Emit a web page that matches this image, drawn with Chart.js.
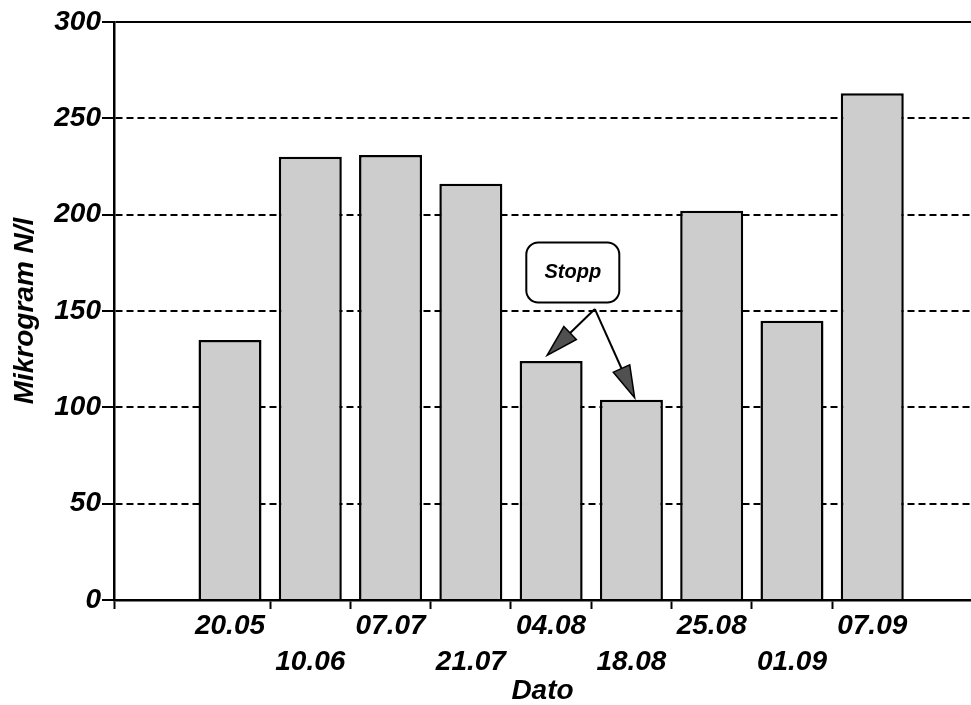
<!DOCTYPE html>
<html>
<head>
<meta charset="utf-8">
<script src="https://cdn.jsdelivr.net/npm/chart.js@4"></script>
<style>
  html, body { margin: 0; padding: 0; background: #fff; }
  #wrap { width: 971px; height: 705px; position: relative; }
</style>
</head>
<body>
<div id="wrap"><canvas id="nitrogenBarChart"></canvas></div>
<script>
const dates = ['20.05', '10.06', '07.07', '21.07', '04.08', '18.08', '25.08', '01.09', '07.09'];
const values = [135, 230, 231, 216, 124, 104, 202, 145, 263];
const yTicks = [0, 50, 100, 150, 200, 250, 300];
const noteText = 'Stopp';
const noteAt = [5.27, 170];
const noteFrom = [5.545, 151];
const noteTargets = [[4.95, 127], [6.04, 105]];

const FONT = "'Liberation Sans', Arial, Helvetica, sans-serif";

function createStoppNote() {
    return {
        id: 'stoppNote',
        afterDatasetsDraw(chart) {
            const {ctx, scales: {x, y}} = chart;
            ctx.save();
            // arrows
            const sx = x.getPixelForValue(noteFrom[0]);
            const sy = y.getPixelForValue(noteFrom[1]);
            noteTargets.forEach(t => {
                const ex = x.getPixelForValue(t[0]);
                const ey = y.getPixelForValue(t[1]);
                const ang = Math.atan2(ey - sy, ex - sx);
                const len = 32, half = 9;
                const bx = ex - Math.cos(ang) * len;
                const by = ey - Math.sin(ang) * len;
                ctx.beginPath();
                ctx.moveTo(sx, sy);
                ctx.lineTo(bx, by);
                ctx.strokeStyle = '#000';
                ctx.lineWidth = 2;
                ctx.stroke();
                ctx.beginPath();
                ctx.moveTo(ex, ey);
                ctx.lineTo(bx + Math.sin(ang) * half, by - Math.cos(ang) * half);
                ctx.lineTo(bx - Math.sin(ang) * half, by + Math.cos(ang) * half);
                ctx.closePath();
                ctx.fillStyle = '#505050';
                ctx.fill();
                ctx.lineWidth = 1.5;
                ctx.stroke();
            });
            // box
            const cx = x.getPixelForValue(noteAt[0]);
            const cy = y.getPixelForValue(noteAt[1]);
            const w = 93, h = 60;
            ctx.beginPath();
            ctx.roundRect(cx - w / 2, cy - h / 2, w, h, 12);
            ctx.fillStyle = '#fff';
            ctx.fill();
            ctx.lineWidth = 2;
            ctx.strokeStyle = '#000';
            ctx.stroke();
            ctx.fillStyle = '#000';
            ctx.font = 'italic bold 20px ' + FONT;
            ctx.textAlign = 'center';
            ctx.textBaseline = 'middle';
            ctx.fillText(noteText, cx, cy);
            ctx.restore();
        }
    };
}

function createNitrogenBarChart() {
    const data = {
        datasets: [{
            type: 'bar',
            label: 'Mikrogram N/l',
            data: values.map((v, i) => ({x: i + 1, y: v})),
            backgroundColor: '#cdcdcd',
            borderColor: '#000',
            borderWidth: 2.5,
            borderSkipped: 'bottom',
            categoryPercentage: 1,
            // ruler spacing is the half-step tick spacing, so 1.57 = 0.785 of a full step
            barPercentage: 1.57
        }]
    };

    const tickFont = {family: FONT, size: 28, style: 'italic', weight: 'bold', lineHeight: 1.3};

    const config = {
        type: 'bar',
        data: data,
        options: {
            responsive: true,
            maintainAspectRatio: false,
            animation: false,
            layout: {padding: {top: 22, right: 0, left: 0, bottom: 0}},
            plugins: {legend: {display: false}, tooltip: {enabled: false}},
            scales: {
                x: {
                    type: 'linear',
                    offset: false,
                    min: -0.445,
                    max: 10.23,
                    afterBuildTicks: scale => {
                        const t = [{value: scale.min}];
                        for (let i = 1; i <= dates.length; i++) {
                            t.push({value: i});
                            if (i < dates.length) t.push({value: i + 0.5});
                        }
                        scale.ticks = t;
                    },
                    afterFit: scale => { scale.height = 105; },
                    ticks: {
                        autoSkip: false,
                        maxRotation: 0,
                        padding: -1,
                        color: '#000',
                        font: tickFont,
                        callback: value => {
                            if (!Number.isInteger(value)) return '';
                            const i = value - 1;
                            if (!dates[i]) return '';
                            return i % 2 ? ['', dates[i]] : dates[i];
                        }
                    },
                    grid: {
                        offset: false,
                        drawOnChartArea: false,
                        tickLength: 9,
                        tickWidth: 2,
                        tickColor: c => (c.tick && Number.isInteger(c.tick.value)) ? 'rgba(0,0,0,0)' : '#000'
                    },
                    border: {color: '#000', width: 2.5},
                    title: {
                        display: true,
                        text: 'Dato',
                        color: '#000',
                        font: {family: FONT, size: 28, style: 'italic', weight: 'bold', lineHeight: 1},
                        padding: {top: 0, bottom: 0}
                    }
                },
                y: {
                    min: 0,
                    max: 300,
                    afterBuildTicks: scale => { scale.ticks = yTicks.map(v => ({value: v})); },
                    afterFit: scale => { scale.width = 114; },
                    ticks: {
                        padding: 1,
                        color: '#000',
                        font: {family: FONT, size: 28, style: 'italic', weight: 'bold'}
                    },
                    grid: {
                        color: '#000',
                        lineWidth: 2,
                        tickLength: 12,
                        tickWidth: 2,
                        tickBorderDash: []
                    },
                    border: {
                        color: '#000',
                        width: 2.5,
                        dash: c => (c.tick && (c.tick.value === 0 || c.tick.value === 300)) ? [] : [7, 4]
                    },
                    title: {
                        display: true,
                        text: 'Mikrogram N/l',
                        color: '#000',
                        font: {family: FONT, size: 28, style: 'italic', weight: 'bold', lineHeight: 1},
                        padding: {top: 11, bottom: 0}
                    }
                }
            }
        },
        plugins: [createStoppNote()]
    };

    new Chart(
        document.getElementById('nitrogenBarChart'),
        config
    );
}

createNitrogenBarChart();
</script>
</body>
</html>
